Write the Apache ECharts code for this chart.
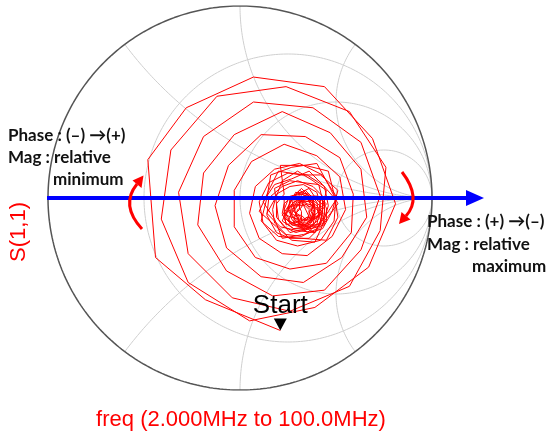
<!DOCTYPE html>
<html>
<head>
<meta charset="utf-8">
<script src="https://cdn.jsdelivr.net/npm/echarts@6/dist/echarts.min.js"></script>
<style>
  html, body { margin: 0; padding: 0; background: #fff; }
  #chart { width: 546px; height: 436px; }
</style>
</head>
<body>
<div id="chart"></div>
<script>
// Smith chart grid values
const rCircles = [1 / 3, 1, 3];
const xArcs = [0.5, 1, 2];

// S(1,1) trace as [re, im] of the reflection coefficient, 2 MHz first
const s11 = [
  [0.21, -0.69], [-0.18, -0.53], [-0.44, -0.31], [-0.48, 0.20], [-0.28, 0.47],
  [0.07, 0.63], [0.44, 0.58], [0.69, 0.31], [0.81, -0.03], [0.67, -0.36],
  [0.39, -0.57], [0.05, -0.64], [-0.27, -0.44], [-0.41, -0.11], [-0.36, 0.25],
  [-0.12, 0.53], [0.24, 0.58], [0.57, 0.45], [0.76, 0.16], [0.73, -0.17],
  [0.57, -0.46], [0.26, -0.59], [-0.04, -0.52], [-0.27, -0.29], [-0.32, 0.03],
  [-0.19, 0.32], [0.07, 0.50], [0.38, 0.47], [0.63, 0.29], [0.73, 0.01],
  [0.63, -0.27], [0.44, -0.48], [0.17, -0.51], [-0.07, -0.38], [-0.22, -0.14],
  [-0.19, 0.13], [-0.03, 0.33], [0.22, 0.45], [0.47, 0.34], [0.63, 0.15],
  [0.66, -0.10], [0.53, -0.31], [0.33, -0.44], [0.11, -0.41], [-0.07, -0.26],
  [-0.13, -0.04], [-0.06, 0.17], [0.11, 0.33], [0.34, 0.32], [0.52, 0.21],
  [0.59, 0.02], [0.58, -0.18], [0.45, -0.34], [0.26, -0.37], [0.08, -0.31],
  [-0.03, -0.15], [-0.03, 0.04], [0.06, 0.19], [0.23, 0.28], [0.40, 0.22],
  [0.52, 0.11], [0.55, -0.06], [0.48, -0.20], [0.35, -0.30], [0.22, -0.29],
  [0.10, -0.21], [0.05, -0.08], [0.08, 0.06], [0.18, 0.15], [0.31, 0.18],
  [0.43, 0.12], [0.50, 0.01], [0.49, -0.12], [0.42, -0.22], [0.30, -0.25],
  [0.19, -0.22], [0.12, -0.13], [0.10, -0.02], [0.15, 0.08], [0.25, 0.13],
  [0.35, 0.12], [0.44, 0.06], [0.46, -0.04], [0.43, -0.14], [0.36, -0.21],
  [0.26, -0.21], [0.19, -0.18], [0.14, -0.09], [0.15, 0.00], [0.22, 0.06],
  [0.30, 0.09], [0.38, 0.06], [0.44, 0.00], [0.44, -0.09], [0.40, -0.16],
  [0.32, -0.20], [0.24, -0.19], [0.18, -0.13], [0.17, -0.06], [0.19, 0.02],
  [0.26, 0.06], [0.33, 0.07], [0.40, 0.03], [0.42, -0.04], [0.41, -0.11],
  [0.36, -0.16], [0.29, -0.18], [0.23, -0.15], [0.19, -0.10], [0.19, -0.03],
  [0.23, 0.02],
  [0.21, 0.17], [0.34, 0.17], [0.46, 0.14], [0.49, 0.02], [0.51, -0.10],
  [0.45, -0.22], [0.32, -0.21], [0.20, -0.20], [0.11, -0.12], [0.14, 0.00],
  [0.16, 0.12], [0.27, 0.16], [0.40, 0.18], [0.46, 0.07], [0.51, -0.03],
  [0.44, -0.12], [0.39, -0.23], [0.27, -0.22], [0.19, -0.15], [0.10, -0.07],
  [0.15, 0.04], [0.20, 0.14], [0.32, 0.12], [0.42, 0.12], [0.51, 0.04],
  [0.48, -0.07], [0.43, -0.16], [0.33, -0.19], [0.22, -0.21], [0.18, -0.11],
  [0.12, -0.02], [0.18, 0.07], [0.27, 0.10], [0.36, 0.14], [0.43, 0.07],
  [0.50, -0.01], [0.44, -0.10], [0.39, -0.18], [0.30, -0.17], [0.21, -0.15],
  [0.14, -0.08], [0.19, 0.01], [0.22, 0.09], [0.30, 0.14], [0.38, 0.09],
  [0.45, 0.04], [0.43, -0.05], [0.42, -0.13], [0.34, -0.16], [0.26, -0.18],
  [0.20, -0.11], [0.19, -0.03], [0.18, 0.05], [0.26, 0.09], [0.33, 0.08],
  [0.41, 0.07], [0.43, -0.01], [0.43, -0.08], [0.37, -0.12],
  [0.30, 0.03], [0.36, 0.02], [0.40, -0.02], [0.41, -0.08],
  [0.39, -0.13], [0.34, -0.16], [0.28, -0.16], [0.24, -0.13], [0.22, -0.08],
  [0.23, -0.03], [0.27, 0.01], [0.32, 0.02], [0.37, 0.00], [0.39, -0.05],
  [0.39, -0.10], [0.36, -0.14], [0.31, -0.15], [0.27, -0.14], [0.24, -0.10],
  [0.23, -0.06], [0.25, -0.01], [0.29, 0.01], [0.34, 0.00], [0.38, -0.03],
  [0.39, -0.07], [0.37, -0.11], [0.34, -0.14], [0.29, -0.14], [0.26, -0.12],
  [0.24, -0.08], [0.26, -0.05], [0.28, -0.02], [0.32, -0.01], [0.36, -0.02],
  [0.39, -0.06], [0.38, -0.10], [0.36, -0.13], [0.33, -0.14], [0.29, -0.14],
  [0.27, -0.11], [0.26, -0.08], [0.27, -0.04], [0.30, -0.02], [0.34, -0.02],
  [0.36, -0.05], [0.38, -0.07], [0.37, -0.11], [0.35, -0.13], [0.31, -0.13],
  [0.29, -0.12], [0.27, -0.09], [0.27, -0.06], [0.29, -0.04], [0.32, -0.03],
  [0.34, -0.04], [0.36, -0.06], [0.36, -0.09], [0.35, -0.11], [0.33, -0.12],
  [0.31, -0.12], [0.24, -0.14], [0.23, -0.07], [0.23, 0.00], [0.30, 0.02],
  [0.36, 0.05], [0.40, -0.01], [0.45, -0.05], [0.45, -0.12], [0.40, -0.15],
  [0.34, -0.15], [0.28, -0.16], [0.22, -0.12], [0.25, -0.05], [0.27, 0.00],
  [0.32, 0.05], [0.37, 0.00], [0.43, -0.01], [0.43, -0.07], [0.44, -0.14],
  [0.37, -0.16], [0.32, -0.14], [0.27, -0.14], [0.22, -0.09], [0.26, -0.03],
  [0.29, 0.03], [0.35, 0.01], [0.40, 0.01], [0.45, -0.03], [0.41, -0.09],
  [0.40, -0.14], [0.35, -0.18], [0.30, -0.14], [0.25, -0.12], [0.28, -0.06],
  [0.27, -0.01], [0.31, 0.04], [0.36, 0.01], [0.42, -0.01], [0.41, -0.07],
  [0.42, -0.12], [0.39, -0.18], [0.33, -0.15], [0.30, -0.11], [0.24, -0.09],
  [0.26, -0.04], [0.30, -0.01], [0.34, 0.04], [0.38, 0.00], [0.39, -0.05],
  [0.43, -0.09], [0.41, -0.14], [0.35, -0.14], [0.31, -0.14], [0.30, -0.10],
  [0.25, -0.07], [0.26, -0.01], [0.32, -0.01], [0.36, 0.01], [0.39, -0.02],
  [0.43, -0.05], [0.39, -0.09], [0.38, -0.14], [0.34, -0.17], [0.30, -0.12],
  [0.27, -0.09], [0.25, -0.05], [0.31, -0.03], [0.33, 0.01], [0.37, -0.02],
  [0.40, -0.04], [0.43, -0.08], [0.39, -0.11], [0.35, -0.11], [0.32, -0.14],
  [0.28, -0.12], [0.29, -0.08], [0.28, -0.04], [0.31, -0.02], [0.35, 0.01],
  [0.37, -0.04], [0.40, -0.05], [0.41, -0.09], [0.37, -0.11], [0.35, -0.15],
  [0.31, -0.12], [0.30, -0.09], [0.27, -0.06], [0.30, -0.04], [0.33, -0.01],
  [0.37, 0.01], [0.38, -0.04], [0.37, -0.07], [0.39, -0.10], [0.37, -0.13],
  [0.33, -0.11], [0.30, -0.11], [0.29, -0.08], [0.31, -0.06], [0.31, -0.02],
  [0.34, -0.02], [0.38, -0.01], [0.38, -0.06], [0.39, -0.08], [0.38, -0.11],
  [0.35, -0.10], [0.32, -0.12], [0.31, -0.09], [0.28, -0.07], [0.30, -0.04],
  [0.33, -0.04], [0.35, -0.03], [0.38, -0.04], [0.37, -0.07], [0.38, -0.09],
  [0.37, -0.12], [0.34, -0.11], [0.32, -0.09], [0.29, -0.09], [0.30, -0.06],
  [0.32, -0.05], [0.33, -0.02], [0.35, -0.04], [0.38, -0.05], [0.36, -0.07],
  [0.37, -0.10], [0.35, -0.10], [0.32, -0.12], [0.32, -0.09], [0.32, -0.07],
  [0.31, -0.05]
];

const traceName = 'S(1,1)';
const freqLabel = 'freq (2.000MHz to 100.0MHz)';

// impedance z = r + jx  ->  reflection coefficient
function gamma(r, x) {
  const d = (r + 1) * (r + 1) + x * x;
  return [(r * r + x * x - 1) / d, (2 * x) / d];
}

function resistanceCircle(r) {
  const pts = [];
  for (let i = 0; i <= 720; i++) {
    const t = -Math.PI / 2 + (Math.PI * i) / 720;
    pts.push(gamma(r, Math.tan(t)));
  }
  return pts;
}

function reactanceArc(x) {
  const pts = [];
  for (let i = 0; i <= 400; i++) {
    const t = (Math.PI / 2) * (i / 400);
    pts.push(gamma(Math.tan(t), x));
  }
  return pts;
}

function gridLine(data, color, width) {
  return {
    type: 'line',
    data: data,
    showSymbol: false,
    silent: true,
    animation: false,
    z: 1,
    lineStyle: { color: color, width: width }
  };
}

const series = [];
rCircles.forEach(r => series.push(gridLine(resistanceCircle(r), '#cfcfcf', 1)));
xArcs.forEach(x => {
  series.push(gridLine(reactanceArc(x), '#cfcfcf', 1));
  series.push(gridLine(reactanceArc(-x), '#cfcfcf', 1));
});
series.push(gridLine([[-1, 0], [1, 0]], '#cfcfcf', 1));
series.push(gridLine(resistanceCircle(0), '#555555', 1.5));

series.push({
  name: traceName,
  type: 'line',
  data: s11,
  showSymbol: false,
  animation: false,
  z: 3,
  lineStyle: { color: '#ff0000', width: 1 },
  markPoint: {
    symbol: 'triangle',
    symbolSize: [13, 12],
    symbolRotate: 180,
    symbolOffset: [0, -6],
    itemStyle: { color: '#000' },
    label: {
      show: true,
      position: 'top',
      distance: 0,
      formatter: 'Start',
      color: '#000',
      fontSize: 26,
      fontFamily: 'Liberation Sans'
    },
    data: [{ coord: s11[0] }]
  }
});

const noteFont = 'bold 17px Lato';
const noteColor = '#111';

const chart = echarts.init(document.getElementById('chart'));
chart.setOption({
  animation: false,
  grid: { left: 48, top: 6, width: 384, height: 384 },
  xAxis: { type: 'value', min: -1, max: 1, show: false },
  yAxis: { type: 'value', min: -1, max: 1, show: false },
  series: series,
  graphic: {
    elements: [
      // blue real axis arrow
      { type: 'line', z: 10, shape: { x1: 47, y1: 198, x2: 470, y2: 198 }, style: { stroke: '#0000ff', lineWidth: 4 } },
      { type: 'polygon', z: 10, shape: { points: [[466, 190], [484, 198], [466, 206]] }, style: { fill: '#0000ff' } },
      // left red rotation arrow
      { type: 'bezierCurve', z: 10, shape: { x1: 142, y1: 229, cpx1: 120, cpy1: 205, x2: 137, y2: 184 }, style: { stroke: '#ff0000', lineWidth: 3, fill: null } },
      { type: 'polygon', z: 10, shape: { points: [[143.5, 175.5], [141.5, 188], [132.5, 180.5]] }, style: { fill: '#ff0000' } },
      // right red rotation arrow
      { type: 'bezierCurve', z: 10, shape: { x1: 402, y1: 172, cpx1: 422, cpy1: 198, x2: 406, y2: 216 }, style: { stroke: '#ff0000', lineWidth: 3, fill: null } },
      { type: 'polygon', z: 10, shape: { points: [[399, 224], [410.5, 219.5], [401.5, 212]] }, style: { fill: '#ff0000' } },
      // notes
      { type: 'text', z: 10, x: 8, y: 136, style: { text: 'Phase : (–) →(+)', font: noteFont, fill: noteColor, textVerticalAlign: 'middle' } },
      { type: 'text', z: 10, x: 8, y: 158, style: { text: 'Mag : relative', font: noteFont, fill: noteColor, textVerticalAlign: 'middle' } },
      { type: 'text', z: 10, x: 53, y: 180, style: { text: 'minimum', font: noteFont, fill: noteColor, textVerticalAlign: 'middle' } },
      { type: 'text', z: 10, x: 427, y: 222, style: { text: 'Phase : (+) →(–)', font: noteFont, fill: noteColor, textVerticalAlign: 'middle' } },
      { type: 'text', z: 10, x: 427, y: 245, style: { text: 'Mag : relative', font: noteFont, fill: noteColor, textVerticalAlign: 'middle' } },
      { type: 'text', z: 10, x: 472, y: 267, style: { text: 'maximum', font: noteFont, fill: noteColor, textVerticalAlign: 'middle' } },
      // axis titles
      { type: 'text', z: 10, x: 19, y: 232, rotation: Math.PI / 2, style: { text: traceName, font: '22px "Liberation Sans"', fill: '#ff0000', textAlign: 'center', textVerticalAlign: 'middle' } },
      { type: 'text', z: 10, x: 241, y: 420, style: { text: freqLabel, font: '22px "Liberation Sans"', fill: '#ff0000', textAlign: 'center', textVerticalAlign: 'middle' } }
    ]
  }
});
</script>
</body>
</html>
